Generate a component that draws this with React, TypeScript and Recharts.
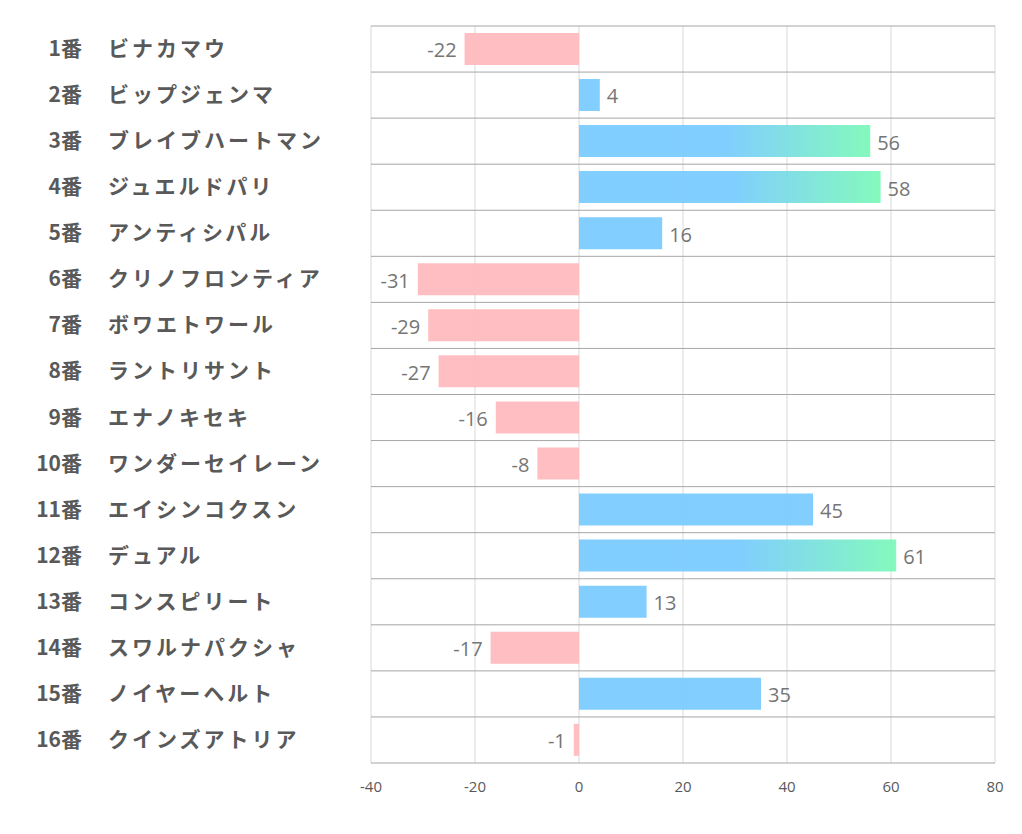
import { BarChart, Bar, XAxis, YAxis, CartesianGrid, Cell, LabelList } from 'recharts';

const gateNumbers = [1, 2, 3, 4, 5, 6, 7, 8, 9, 10, 11, 12, 13, 14, 15, 16];
const horseNames = [
  'ビナカマウ',
  'ビップジェンマ',
  'ブレイブハートマン',
  'ジュエルドパリ',
  'アンティシパル',
  'クリノフロンティア',
  'ボワエトワール',
  'ラントリサント',
  'エナノキセキ',
  'ワンダーセイレーン',
  'エイシンコクスン',
  'デュアル',
  'コンスピリート',
  'スワルナパクシャ',
  'ノイヤーヘルト',
  'クインズアトリア',
];
const scores = [-22, 4, 56, 58, 16, -31, -29, -27, -16, -8, 45, 61, 13, -17, 35, -1];
const xTicks = [-40, -20, 0, 20, 40, 60, 80];

const BLUE = '#7acbff';
const GREEN = '#7df9b9';
const PINK = '#ffbbbf';

const data = gateNumbers.map((n, i) => ({ gate: n, name: horseNames[i], score: scores[i] }));

function HorseTick(props: any) {
  const { y, payload } = props;
  const row = data[payload.index];
  return (
    <g>
      <text
        x={82}
        y={y - 2}
        textAnchor="end"
        dominantBaseline="central"
        fontSize={21}
        fontWeight="bold"
        fill="#595959"
        fontFamily="'Noto Sans CJK JP', sans-serif"
      >
        {row.gate}番
      </text>
      <text
        x={108}
        y={y - 2}
        textAnchor="start"
        dominantBaseline="central"
        fontSize={21}
        fontWeight="bold"
        fill="#595959"
        letterSpacing={3}
        fontFamily="'Noto Sans CJK JP', sans-serif"
      >
        {row.name}
      </text>
    </g>
  );
}

function ValueLabel(props: any) {
  const { x, y, width, height, value } = props;
  const left = Math.min(x, x + width);
  const right = Math.max(x, x + width);
  const neg = value < 0;
  return (
    <text
      x={neg ? left - 8 : right + 7}
      y={y + height / 2 + 1}
      textAnchor={neg ? 'end' : 'start'}
      dominantBaseline="central"
      fontSize={20}
      fill="#757575"
      fontFamily="'Open Sans', sans-serif"
    >
      {value}
    </text>
  );
}

export default function App() {
  return (
    <div style={{ position: 'absolute', left: 0, top: 0, background: '#fff' }}>
      <BarChart
        width={1022}
        height={834}
        data={data}
        layout="vertical"
        margin={{ top: 26, right: 27, bottom: 41, left: 0 }}
        barCategoryGap="15%"
      >
        <defs>
          <linearGradient id="hiGrad" x1="0" y1="0" x2="1" y2="0">
            <stop offset="0" stopColor={BLUE} />
            <stop offset="0.5" stopColor={BLUE} />
            <stop offset="1" stopColor={GREEN} />
          </linearGradient>
        </defs>
        <CartesianGrid horizontal={false} stroke="#d9d9d9" />
        <CartesianGrid
          vertical={false}
          stroke="#a6a6a6"
          horizontalCoordinatesGenerator={({ offset }: any) =>
            Array.from({ length: data.length }, (_, i) => offset.top + (i * offset.height) / data.length)
          }
        />
        <XAxis
          type="number"
          domain={[-40, 80]}
          ticks={xTicks}
          tickLine={false}
          axisLine={{ stroke: '#a6a6a6' }}
          tick={{ fontSize: 15, fill: '#595959', fontFamily: "'Open Sans', sans-serif" }}
          tickMargin={12}
          height={30}
        />
        <YAxis type="category" dataKey="name" width={371} axisLine={false} tickLine={false} tick={<HorseTick />} />
        <Bar dataKey="score" isAnimationActive={false} fillOpacity={0.95}>
          {data.map((d, i) => (
            <Cell key={i} fill={d.score > 50 ? 'url(#hiGrad)' : d.score >= 0 ? BLUE : PINK} />
          ))}
          <LabelList dataKey="score" content={<ValueLabel />} />
        </Bar>
      </BarChart>
    </div>
  );
}
